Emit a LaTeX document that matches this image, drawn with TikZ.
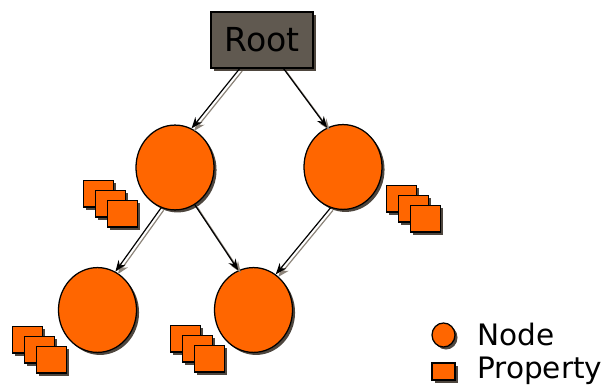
\documentclass[tikz,border=0pt]{standalone}
\usepackage{fontspec}
\setmainfont{DejaVu Sans}
\usetikzlibrary{shapes.geometric,shadows,arrows.meta}

\definecolor{nodeorange}{RGB}{255,102,0}
\definecolor{rootgray}{RGB}{96,89,80}
\definecolor{shadowgray}{RGB}{78,70,62}
\definecolor{wiregray}{RGB}{140,132,122}

\begin{document}
\begin{tikzpicture}[
		x=0.025cm, y=-0.025cm,
		dropped/.style={drop shadow={shadow xshift=1.8pt, shadow yshift=-1.8pt, fill=shadowgray, opacity=1}},
		entity/.style={ellipse, draw, line width=0.9pt, fill=nodeorange, minimum width=1.95cm, minimum height=2.12cm, inner sep=0pt, dropped},
		prop/.style={rectangle, draw, line width=0.9pt, fill=nodeorange, minimum width=0.75cm, minimum height=0.66cm, inner sep=0pt, dropped},
		link/.style={draw=black, line width=0.85pt, -{Stealth[length=8pt, width=6pt]}},
		link shade/.style={draw=wiregray, line width=0.85pt, -{Stealth[length=8pt, width=6pt]}},
		keytext/.style={anchor=base west, inner sep=0pt, font=\fontsize{21}{25}\selectfont}
	]
  \useasboundingbox (0,0) rectangle (611,392);

  \node (root) [draw, line width=0.9pt, fill=rootgray, minimum width=2.55cm, minimum height=1.4cm, dropped, font=\fontsize{23.5}{28}\selectfont] at (262,40) {Root};
  \node (n_a) [entity] at (175,167.5) {};
  \node (n_b) [entity] at (343,167) {};
  \node (n_c) [entity] at (97.5,310) {};
  \node (n_d) [entity] at (253.5,310) {};

  \node (p_a1) [prop, anchor=north west] at (83,180) {};
  \node (p_a2) [prop, anchor=north west] at (95,190) {};
  \node (p_a3) [prop, anchor=north west] at (107,200) {};
  \node (p_b1) [prop, anchor=north west] at (386,185) {};
  \node (p_b2) [prop, anchor=north west] at (398,195) {};
  \node (p_b3) [prop, anchor=north west] at (410,205) {};
  \node (p_c1) [prop, anchor=north west] at (12,326) {};
  \node (p_c2) [prop, anchor=north west] at (24,336) {};
  \node (p_c3) [prop, anchor=north west] at (36,346) {};
  \node (p_d1) [prop, anchor=north west] at (170,325) {};
  \node (p_d2) [prop, anchor=north west] at (182,335) {};
  \node (p_d3) [prop, anchor=north west] at (194,345) {};

  \draw [link shade] ([shift={(2.5,2.5)}]root.-128) -- ([shift={(2.5,2.5)}]n_a.67);
  \draw [link] (root.-128) -- (n_a.67);
  \draw [link shade] ([shift={(2.5,2.5)}]root.-53) -- ([shift={(2.5,2.5)}]n_b.112);
  \draw [link] (root.-53) -- (n_b.112);
  \draw [link shade] ([shift={(2.5,2.5)}]n_a.-109) -- ([shift={(2.5,2.5)}]n_c.65);
  \draw [link] (n_a.-109) -- (n_c.65);
  \draw [link shade] ([shift={(2.5,2.5)}]n_a.-62) -- ([shift={(2.5,2.5)}]n_d.111);
  \draw [link] (n_a.-62) -- (n_d.111);
  \draw [link shade] ([shift={(2.5,2.5)}]n_b.-107) -- ([shift={(2.5,2.5)}]n_d.58);
  \draw [link] (n_b.-107) -- (n_d.58);

  \node (key_node) [entity, minimum width=0.575cm, minimum height=0.6cm] at (443.5,335) {};
  \node (key_prop) [prop, minimum width=0.575cm, minimum height=0.425cm] at (443.5,371.5) {};
  \node (key_node_text) [keytext] at (477,346) {Node};
  \node (key_prop_text) [keytext] at (477,379) {Property};
\end{tikzpicture}
\end{document}
